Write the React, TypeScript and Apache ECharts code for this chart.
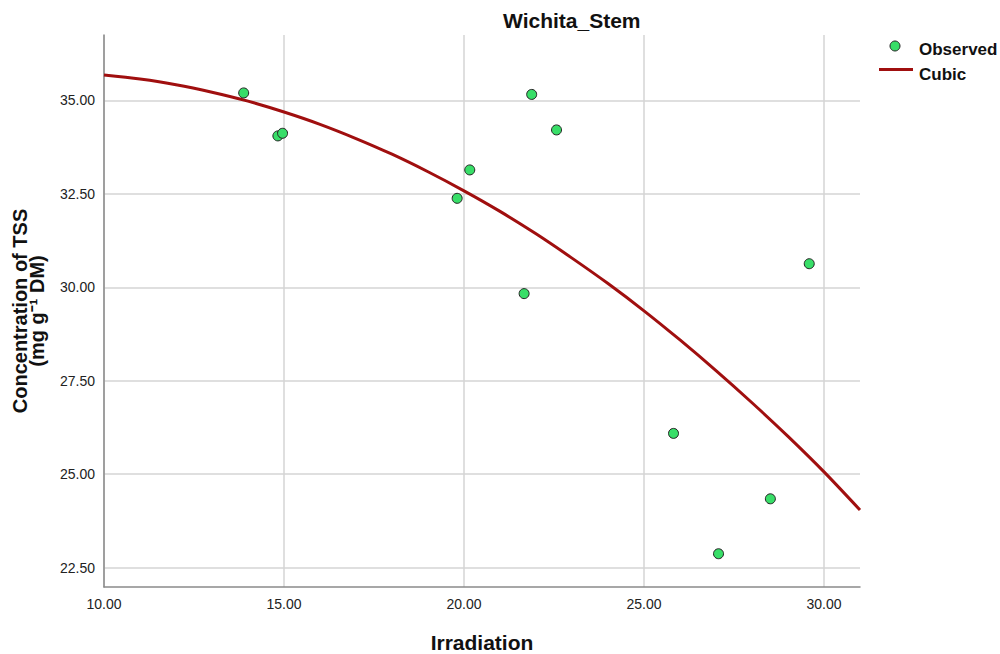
import React, { useEffect, useRef } from "react";
import * as echarts from "echarts";

const observedX = [13.88, 14.83, 14.96, 19.81, 20.16, 21.88, 22.57, 21.67, 25.82, 28.51, 27.07, 29.59];
const observedY = [35.2, 34.05, 34.12, 32.38, 33.14, 35.16, 34.21, 29.83, 26.09, 24.34, 22.87, 30.63];

const cubicX = [10, 11, 12, 13, 14, 15, 16, 17, 18, 19, 20, 21, 22, 23, 24, 25, 26, 27, 28, 29, 30, 31];
const cubicY = [35.68, 35.57, 35.42, 35.22, 34.98, 34.69, 34.36, 33.98, 33.56, 33.09, 32.58, 32.03, 31.43, 30.78, 30.1, 29.37, 28.59, 27.77, 26.91, 26.01, 25.06, 24.04];

const xTicks = [10, 15, 20, 25, 30];
const yTicks = [22.5, 25, 27.5, 30, 32.5, 35];

const FONT = "'Liberation Sans', Arial, sans-serif";

export default function App() {
  const ref = useRef<HTMLDivElement>(null);
  useEffect(() => {
    if (!ref.current) return;
    const chart = echarts.init(ref.current, undefined, { renderer: "svg" });
    const gridColor = "#d4d4d4";
    const axisColor = "#8a8a8a";
    const green = "#38de68";
    chart.setOption({
      animation: false,
      backgroundColor: "#ffffff",
      grid: { left: 104, right: 140, top: 35, bottom: 67, containLabel: false },
      xAxis: {
        type: "value",
        min: 10,
        max: 31,
        axisLine: { show: true, onZero: false, lineStyle: { color: axisColor, width: 1.5 } },
        axisTick: { show: false, customValues: xTicks },
        axisLabel: {
          customValues: xTicks,
          formatter: (v: number) => v.toFixed(2),
          color: "#222",
          fontSize: 14,
          fontFamily: FONT,
          margin: 10,
        },
        splitLine: { show: true, lineStyle: { color: gridColor, width: 1.5 } },
      },
      yAxis: {
        type: "value",
        min: 21.98,
        max: 36.75,
        axisLine: { show: true, onZero: false, lineStyle: { color: axisColor, width: 1.5 } },
        axisTick: { show: false, customValues: yTicks },
        axisLabel: {
          customValues: yTicks,
          formatter: (v: number) => v.toFixed(2),
          color: "#222",
          fontSize: 14,
          fontFamily: FONT,
          margin: 9,
        },
        splitLine: { show: true, lineStyle: { color: gridColor, width: 1.5 } },
      },
      series: [
        {
          type: "line",
          name: "Cubic",
          data: cubicX.map((x, i) => [x, cubicY[i]]),
          smooth: 0.3,
          showSymbol: false,
          symbol: "none",
          lineStyle: { color: "#a00f0f", width: 3 },
          z: 2,
        },
        {
          type: "scatter",
          name: "Observed",
          data: observedX.map((x, i) => [x, observedY[i]]),
          symbol: "circle",
          symbolSize: 10,
          itemStyle: { color: green, borderColor: "#222", borderWidth: 1, opacity: 1 },
          z: 3,
        },
      ],
      graphic: [
        {
          type: "text",
          left: 503,
          top: 10,
          style: { text: "Wichita_Stem", font: `bold 21px ${FONT}`, fill: "#111" },
        },
        {
          type: "text",
          x: 482,
          y: 642,
          style: {
            text: "Irradiation",
            font: `bold 21px ${FONT}`,
            fill: "#111",
            textAlign: "center",
            textVerticalAlign: "middle",
          },
        },
        {
          type: "text",
          x: 28,
          y: 311,
          rotation: Math.PI / 2,
          style: {
            text: "Concentration of TSS\n(mg g\u207B\u00B9 DM)",
            font: `bold 20px ${FONT}`,
            lineHeight: 17,
            fill: "#111",
            textAlign: "center",
            textVerticalAlign: "middle",
          },
        },
        {
          type: "circle",
          shape: { cx: 895, cy: 46, r: 5 },
          style: { fill: green, stroke: "#222", lineWidth: 1 },
        },
        {
          type: "text",
          x: 919,
          y: 49,
          style: { text: "Observed", font: `bold 17px ${FONT}`, fill: "#111", textVerticalAlign: "middle" },
        },
        {
          type: "line",
          shape: { x1: 879, y1: 69.5, x2: 913, y2: 69.5 },
          style: { stroke: "#a00f0f", lineWidth: 3 },
        },
        {
          type: "text",
          x: 919,
          y: 74,
          style: { text: "Cubic", font: `bold 17px ${FONT}`, fill: "#111", textVerticalAlign: "middle" },
        },
      ],
    });
    return () => chart.dispose();
  }, []);
  return (
    <div
      ref={ref}
      style={{ position: "fixed", left: 0, top: 0, width: 1000, height: 654 }}
    />
  );
}
